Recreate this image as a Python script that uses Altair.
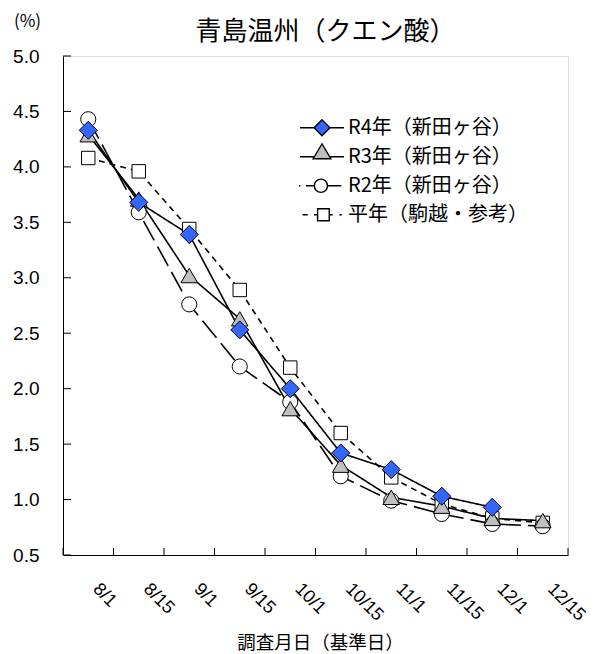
import json
import altair as alt
import pandas as pd

# ---- data ----
dates = ["8/1", "8/15", "9/1", "9/15", "10/1", "10/15", "11/1", "11/15", "12/1", "12/15"]
series_names = ["R4年（新田ヶ谷）", "R3年（新田ヶ谷）", "R2年（新田ヶ谷）", "平年（駒越・参考）"]
r4 = [4.33, 3.68, 3.39, 2.53, 2.00, 1.42, 1.27, 1.03, 0.93, None]
r3 = [4.29, 3.71, 3.02, 2.63, 1.82, 1.31, 1.02, 0.94, 0.83, 0.81]
r2 = [4.43, 3.59, 2.76, 2.20, 1.88, 1.21, 0.99, 0.87, 0.78, 0.76]
avg = [4.08, 3.96, 3.44, 2.89, 2.19, 1.60, 1.20, 0.96, 0.83, 0.79]
y_ticks = [0.5, 1.0, 1.5, 2.0, 2.5, 3.0, 3.5, 4.0, 4.5, 5.0]

CJK = "Noto Sans CJK JP"
NUM = "Liberation Sans"

W, H = 505, 499

rows = []
# draw order: bottom -> top
for name, vals in [(series_names[3], avg), (series_names[2], r2),
                   (series_names[1], r3), (series_names[0], r4)]:
    for i, v in enumerate(vals):
        if v is not None:
            rows.append({"idx": i, "date": dates[i], "series": name, "value": v})
df = pd.DataFrame(rows)

x_bounds = [i - 0.5 for i in range(len(dates) + 1)]

xscale = alt.Scale(domain=[-0.5, len(dates) - 0.5], nice=False, zero=False)
yscale = alt.Scale(domain=[0.5, 5.0], nice=False, zero=False)

label_expr = json.dumps(dates) + "[datum.value]"

xaxis = alt.Axis(values=list(range(len(dates))), labelExpr=label_expr,
                 labelAngle=45, labelAlign="left", labelBaseline="middle",
                 labelPadding=31, labelOffset=7, labelFontSize=18, labelFont=NUM,
                 labelColor="black", labelOverlap=False, labelFlush=False,
                 ticks=False, tickSize=0, grid=False,
                 domainColor="black", domainWidth=1,
                 title="調査月日（基準日）", titleFont=CJK, titleFontSize=18.5,
                 titleFontWeight="normal", titleColor="black",
                 titleX=257, titleY=87, titleBaseline="middle")

yaxis = alt.Axis(values=y_ticks, format=".1f", labelFontSize=19, labelFont=NUM,
                 labelColor="black", labelPadding=24, ticks=False, tickSize=0,
                 grid=False, domainColor="black", domainWidth=1,
                 title="(%)", titleAngle=0, titleX=-36, titleY=-35,
                 titleAlign="center", titleBaseline="middle", titleFontSize=17,
                 titleFont=CJK, titleFontWeight="normal", titleColor="black")

dash_range = [[1, 0], [1, 0], [22, 7], [6, 5]]
fill_range = ["#3366FF", "#C0C0C0", "white", "white"]
shape_range = ["diamond", "triangle-up", "circle", "square"]
size_range = [324, 180, 169, 160]

# legend symbols: line stub + marker as one custom path (unit = half symbol width)
legend_paths = [
    "M-1,0H-0.36M0.36,0H1M0,-0.36L0.36,0L0,0.36L-0.36,0Z",
    "M-1,0H-0.35M0.35,0H1M0,-0.59L0.4,0.09L-0.4,0.09Z",
    "M-1.05,0H-0.98M-0.73,0H-0.35M0.25,0A0.3,0.3,0,1,1,-0.35,0A0.3,0.3,0,1,1,0.25,0ZM0.25,0H0.88",
    "M-0.88,0H-0.65M-0.36,0H-0.2M-0.2,-0.27H0.33V0.27H-0.2ZM0.33,0H0.49M0.79,0H0.9",
]

base = alt.Chart(df)

lines = base.mark_line(color="black", strokeWidth=1.6).encode(
    x=alt.X("idx:Q", scale=xscale, axis=xaxis),
    y=alt.Y("value:Q", scale=yscale, axis=yaxis),
    detail="series:N",
    strokeDash=alt.StrokeDash("series:N",
                              scale=alt.Scale(domain=series_names, range=dash_range),
                              legend=None),
)

points = base.mark_point(filled=True, opacity=1, stroke="black", strokeWidth=1).encode(
    x=alt.X("idx:Q", scale=xscale),
    y=alt.Y("value:Q", scale=yscale),
    shape=alt.Shape("series:N", scale=alt.Scale(domain=series_names, range=shape_range),
                    legend=None),
    fill=alt.Fill("series:N", scale=alt.Scale(domain=series_names, range=fill_range),
                  legend=None),
    size=alt.Size("series:N", scale=alt.Scale(domain=series_names, range=size_range),
                  legend=None),
)

leg = alt.Legend(title=None, orient="none", legendX=236, legendY=57.5,
                 direction="vertical", padding=0, symbolSize=1936,
                 symbolStrokeWidth=1.4, symbolOpacity=1,
                 clipHeight=28.5, rowPadding=0, labelFont=CJK, labelFontSize=20,
                 labelColor="black", labelOffset=3, symbolOffset=0, labelLimit=400)

carrier = base.transform_filter("datum.value > 100").mark_point(
    filled=True, opacity=1, size=1936, stroke="black", strokeWidth=1.4).encode(
    x=alt.X("idx:Q", scale=xscale),
    y=alt.Y("value:Q", scale=yscale),
    shape=alt.Shape("series:N", scale=alt.Scale(domain=series_names, range=legend_paths),
                    legend=leg),
    fill=alt.Fill("series:N", scale=alt.Scale(domain=series_names, range=fill_range),
                  legend=leg),
)

yticks = alt.Chart(pd.DataFrame({"value": y_ticks})).mark_rule(
    color="black", strokeWidth=1).encode(
    y=alt.Y("value:Q", scale=yscale),
    x=alt.value(0), x2=alt.value(8),
)

xticks = alt.Chart(pd.DataFrame({"idx": x_bounds})).mark_rule(
    color="black", strokeWidth=1).encode(
    x=alt.X("idx:Q", scale=xscale),
    y=alt.value(H), y2=alt.value(H - 7),
)

chart = alt.layer(lines, points, carrier, yticks, xticks).resolve_scale(
    shape="independent", fill="independent"
).resolve_legend(
    shape="independent", fill="independent"
).properties(
    width=W, height=H,
    title=alt.TitleParams("青島温州（クエン酸）", font=CJK, fontSize=26,
                          fontWeight="normal", color="black", anchor="middle",
                          frame="group", dy=37, dx=10),
    autosize=alt.AutoSizeParams(type="none"),
    padding={"left": 55, "top": 48, "right": 22, "bottom": 97},
).configure_view(stroke=None).configure(background="white")

chart.save("out.html", embed_options={"renderer": "svg", "actions": False})
